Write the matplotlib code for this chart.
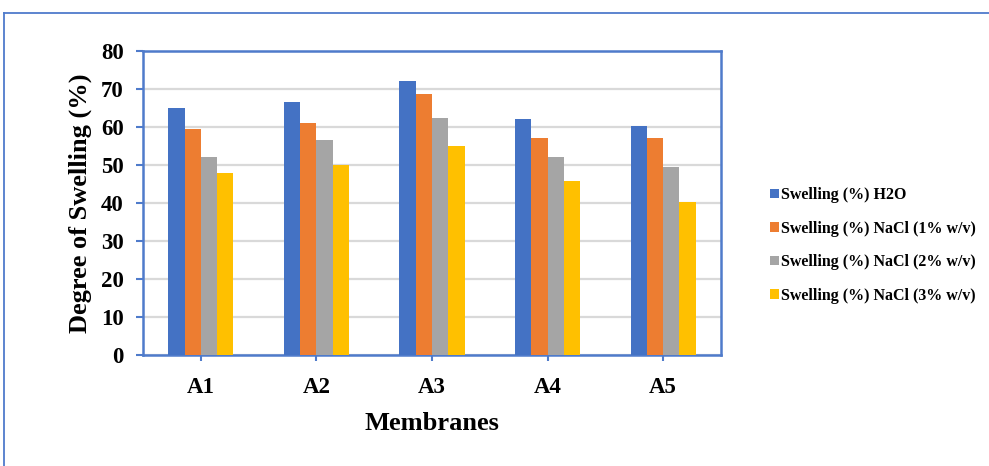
import numpy as np
import matplotlib.pyplot as plt
from matplotlib.lines import Line2D
from matplotlib.patches import Patch

plt.rcParams['font.family'] = ['Liberation Serif', 'DejaVu Serif']
plt.rcParams['font.weight'] = 'bold'

membranes = ["A1", "A2", "A3", "A4", "A5"]
series_names = ["Swelling (%) H2O",
                "Swelling (%) NaCl (1% w/v)",
                "Swelling (%) NaCl (2% w/v)",
                "Swelling (%) NaCl (3% w/v)"]
swell_h2o = [65.2, 66.6, 72.3, 62.1, 60.4]
swell_nacl1 = [59.7, 61.2, 68.7, 57.1, 57.1]
swell_nacl2 = [52.1, 56.6, 62.5, 52.1, 49.6]
swell_nacl3 = [48.1, 50.2, 55.1, 45.8, 40.2]
colors = ["#4472C4", "#ED7D31", "#A5A5A5", "#FFC000"]

FRAME_BLUE = "#4F7BCB"

fig = plt.figure(figsize=(9.89, 4.66), dpi=100)
ax = fig.add_axes([0.1446, 0.2382, 0.5844, 0.6513])

x = np.arange(len(membranes))
w = 0.141
data = [swell_h2o, swell_nacl1, swell_nacl2, swell_nacl3]
for k, (vals, c) in enumerate(zip(data, colors)):
    ax.bar(x + (k - 1.5) * w, vals, width=w, color=c, zorder=3)

ax.set_xlim(-0.5, len(membranes) - 0.5)
ax.set_ylim(0, 80)
ax.set_yticks(np.arange(0, 81, 10))
ax.set_xticks(x)
ax.set_xticklabels(membranes)
ax.yaxis.grid(True, color="#D9D9D9", linewidth=1.6, zorder=0)
ax.set_axisbelow(True)

for sp in ax.spines.values():
    sp.set_color(FRAME_BLUE)
    sp.set_linewidth(1.8)
ax.tick_params(axis='y', direction='out', length=5, width=1.5, color=FRAME_BLUE,
               pad=9, labelsize=16.5)
ax.tick_params(axis='x', direction='out', length=4, width=1.5, color=FRAME_BLUE,
               pad=12, labelsize=16.5)
for lab in ax.get_xticklabels() + ax.get_yticklabels():
    lab.set_fontweight('bold')

ax.set_xlabel("Membranes", fontsize=19, fontweight='bold', labelpad=10)
ax.set_ylabel("Degree of Swelling (%)", fontsize=19, fontweight='bold', labelpad=6)

handles = [Patch(facecolor=c, edgecolor='none') for c in colors]
leg = fig.legend(handles, series_names, loc='center left',
                 bbox_to_anchor=(0.764, 0.4732), frameon=False,
                 prop={'family': 'Liberation Serif', 'weight': 'bold', 'size': 11.5},
                 handlelength=0.55, handleheight=0.55, handletextpad=0.12,
                 labelspacing=1.1)

# outer chart frame
fig.add_artist(Line2D([0.0045, 0.0045], [0, 1 - 13 / 466], color=FRAME_BLUE,
                      linewidth=1.3, transform=fig.transFigure))
fig.add_artist(Line2D([0.0045, 1.0], [1 - 13 / 466, 1 - 13 / 466], color=FRAME_BLUE,
                      linewidth=1.3, transform=fig.transFigure))

fig.savefig("out.png", dpi=100)
